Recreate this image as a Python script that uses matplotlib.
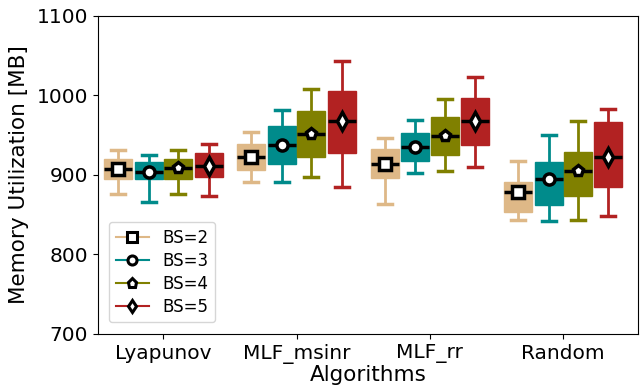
import numpy as np
import matplotlib.pyplot as plt
from matplotlib.lines import Line2D

algorithms = ["Lyapunov", "MLF_msinr", "MLF_rr", "Random"]
batch_sizes = ["BS=2", "BS=3", "BS=4", "BS=5"]
colors = ["burlywood", "darkcyan", "olive", "firebrick"]
markers = ["s", "o", "p", "d"]

# per batch size: one value per algorithm
whislo = [[876, 891, 864, 843],
          [866, 891, 902, 842],
          [876, 897.5, 904.5, 843],
          [874, 885, 910.5, 848]]
q1 = [[895, 906, 896, 853.5],
      [894.5, 914, 918, 862],
      [894.5, 922.5, 925.5, 873],
      [897, 927, 937.5, 885]]
med = [[908, 923, 913.5, 878],
       [904, 937.5, 935, 894.5],
       [908.5, 952, 949.5, 904.5],
       [911, 967.5, 967.5, 923]]
q3 = [[920.5, 939.5, 932, 891],
      [916, 961, 952.5, 916.7],
      [920.5, 981, 973.5, 928.5],
      [927, 1006, 996.5, 966]]
whishi = [[931, 954, 946, 917.5],
          [925, 982, 969, 950],
          [931, 1008, 996, 967.5],
          [939.5, 1043, 1023.5, 983]]

fig = plt.figure(figsize=(6.41, 3.90), dpi=100)
ax = fig.add_axes([0.153, 0.144, 0.842, 0.815])

x = np.arange(len(algorithms))
offsets = [-0.34, -0.11, 0.11, 0.34]
handles = []
for k in range(4):
    stats = []
    for i in range(len(algorithms)):
        stats.append(dict(whislo=whislo[k][i], q1=q1[k][i], med=med[k][i],
                          q3=q3[k][i], whishi=whishi[k][i], fliers=[]))
    c = colors[k]
    ax.bxp(stats, positions=x + offsets[k], widths=0.21, patch_artist=True,
           showfliers=False,
           boxprops=dict(facecolor=c, edgecolor=c, linewidth=1),
           whiskerprops=dict(color=c, linewidth=2),
           capprops=dict(color=c, linewidth=2.5),
           medianprops=dict(color="black", linewidth=2.5))
    ax.plot(x + offsets[k], med[k], linestyle="none", marker=markers[k],
            markersize=8 if k != 3 else 9, markerfacecolor="white",
            markeredgecolor="black", markeredgewidth=2.5, zorder=5)
    handles.append(Line2D([], [], color=c, linewidth=1.5, marker=markers[k],
                          markersize=6.5, markerfacecolor="white",
                          markeredgecolor="black", markeredgewidth=2.2,
                          label=batch_sizes[k]))

ax.set_xlim(-0.49, 3.56)
ax.set_ylim(700, 1100)
ax.set_yticks([700, 800, 900, 1000, 1100])
ax.set_xticks(x)
ax.set_xticklabels(algorithms)
ax.tick_params(labelsize=14.5)
ax.set_xlabel("Algorithms", fontsize=15.5, labelpad=1)
ax.set_ylabel("Memory Utilization [MB]", fontsize=15.5, labelpad=6)
ax.legend(handles=handles, loc="lower left", fontsize=12, labelspacing=0.3,
          bbox_to_anchor=(0.005, 0.01), handlelength=2.0)

fig.savefig("out.png", dpi=100)
